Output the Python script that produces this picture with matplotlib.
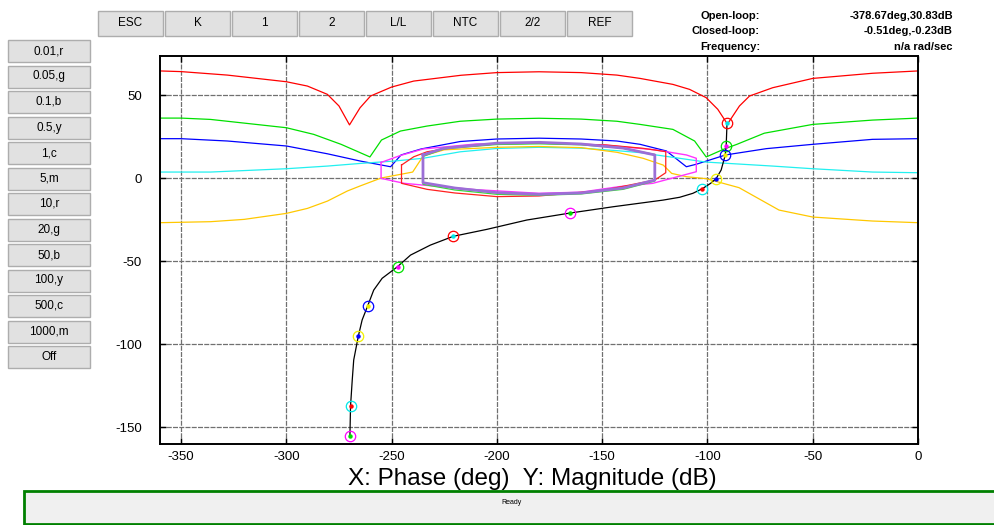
import matplotlib.pyplot as plt
from matplotlib.patches import Rectangle

# ---- data (phase in deg, magnitude in dB) ----
red_phase = [-360, -350, -328, -300, -290, -280.5, -275, -270, -265, -260, -250, -239.5,
             -217, -200, -180, -160, -143, -132, -116.4, -108.5, -100.6, -95.1, -90.5,
             -84.8, -80, -69, -50, -21.6, 0]
red_mag = [64.5, 64.1, 62.0, 58.0, 55.4, 50.4, 43.4, 32.0, 42.3, 49.4, 54.8, 58.4,
           61.9, 63.5, 64.0, 63.5, 62.0, 60.0, 56.4, 53.4, 48.4, 41.4, 32.5,
           43.4, 49.4, 54.4, 60.0, 63.1, 64.5]

green_phase = [-360, -350, -336, -300, -287, -274, -260.3, -254.8, -245.8, -233.2, -217.4,
               -200, -180, -160, -143, -132, -116.4, -106.1, -100.6, -92, -86, -73, -50,
               -21.6, 0]
green_mag = [36.1, 36.1, 35.3, 30.3, 26.3, 20.3, 12.7, 22.9, 28.3, 31.3, 34.2,
             35.5, 36.0, 35.5, 34.2, 32.3, 29.3, 22.3, 12.7, 17.5, 20.3, 27.0, 32.3,
             34.9, 36.1]

blue_phase = [-360, -350, -328, -300, -280.5, -264.8, -250.5, -245.5, -236, -217.4, -200,
              -180, -160, -143, -132, -119.5, -110, -105.3, -91.4, -72, -50, -21.6, 0]
blue_mag = [23.7, 23.7, 22.3, 19.3, 14.6, 10.2, 6.8, 13.9, 17.5, 22.0, 23.5,
            24.0, 23.5, 22.3, 20.3, 16.3, 6.8, 8.3, 13.9, 17.7, 20.3, 23.3, 23.7]

cyan_phase = [-360, -336, -300, -280.5, -264.8, -249, -235, -217.4, -200, -180, -160, -143,
              -132, -110, -100.6, -69, -50, -21.6, 0]
cyan_mag = [3.6, 3.6, 5.6, 7.2, 8.8, 10.2, 11.9, 15.8, 17.8, 18.5, 18.0, 16.5,
            15.3, 11.3, 9.6, 7.2, 5.6, 3.6, 3.2]

yellow_phase = [-360, -336, -320, -300, -290, -280.5, -271, -265, -255, -240, -235, -225,
                -200, -180, -160, -143, -130.6, -121, -117, -110, -100.6, -85, -66, -50,
                -21.6, 0]
yellow_mag = [-26.9, -26.3, -24.9, -21.3, -18.3, -13.9, -7.8, -4.8, 0.0, 3.6, 13.3, 17.0,
              18.5, 19.0, 18.3, 15.5, 11.9, 7.8, 2.8, 0.8, -0.4, -5.8, -19.3, -23.5,
              -25.9, -26.9]

# closed contours in the middle
loop_m_phase = [-255, -255, -244, -235.5, -210, -180, -160, -142, -126, -105.3, -105.3,
                -110, -125, -150, -180, -210, -235, -246, -255]
loop_m_mag = [9.4, -0.2, -3.2, -4.2, -7.0, -9.2, -8.5, -5.2, -3.2, 3.8, 11.9,
              13.9, 17.0, 20.0, 21.0, 20.5, 17.5, 13.5, 9.4]

loop_r_phase = [-245.3, -245.3, -233.2, -220, -200, -180, -150, -125, -119.8, -119.8,
                -130.6, -148, -180, -200, -220, -233.2, -239.5, -245.3]
loop_r_mag = [7.8, -3.2, -6.8, -9.0, -11.2, -10.8, -7.5, -1.2, 3.2, 15.9,
              17.9, 19.9, 21.0, 20.5, 18.5, 15.8, 12.8, 7.8]

loop_g_phase = [-235.1, -235.1, -220, -200, -180, -160, -140, -125, -125, -140, -160,
                -180, -200, -225, -235.1]
loop_g_mag = [13.0, -3.8, -7.2, -9.8, -10.4, -9.6, -6.8, -1.8, 14.2, 18.0, 20.0,
              20.6, 20.2, 17.6, 13.0]

loop_p_phase = [-235.1, -235.1, -220, -200, -180, -160, -140, -125, -125, -140, -160,
                -180, -200, -225.3, -235.1]
loop_p_mag = [13.9, -2.8, -6.0, -8.8, -9.8, -9.0, -6.0, -1.2, 13.9, 18.0, 20.5,
              21.5, 21.0, 17.9, 13.9]

# open-loop response
ol_phase = [-269.8, -269.5, -268.7, -268.0, -265.8, -264.0, -261.4, -258.5, -254.5, -247.2,
            -241.0, -231.6, -220.7, -204.7, -185.8, -165.3, -144.8, -121.1, -113.2, -106.9,
            -102.4, -98.5, -95.9, -93.5, -91.6, -91.1, -90.7]
ol_mag = [-155.2, -137.2, -121.7, -109.6, -95.2, -85.5, -77.1, -67.5, -60.4, -53.4,
          -46.4, -40.4, -35.1, -30.9, -25.3, -21.1, -17.3, -13.3, -11.6, -9.2,
          -6.4, -3.2, -0.4, 4.8, 13.6, 19.4, 33.2]

# frequency markers on the open-loop curve
mark_freq = ['0.01', '0.05', '0.1', '0.5', '1', '5', '10', '20', '50', '100', '500', '1000']
mark_phase = [-90.7, -91.1, -91.6, -95.9, -102.4, -165.3, -220.7, -247.2, -261.4, -265.8,
              -269.5, -269.8]
mark_mag = [33.2, 19.4, 13.6, -0.4, -6.4, -21.1, -35.1, -53.4, -77.1, -95.2, -137.2, -155.2]
mark_codes = ['r', 'g', 'b', 'y', 'c', 'm', 'r', 'g', 'b', 'y', 'c', 'm']

top_buttons = ['ESC', 'K', '1', '2', 'L/L', 'NTC', '2/2', 'REF']
side_buttons = [f + ',' + c for f, c in zip(mark_freq, mark_codes)] + ['Off']

info_names = ['Open-loop:', 'Closed-loop:', 'Frequency:']
info_values = ['-378.67deg,30.83dB', '-0.51deg,-0.23dB', 'n/a rad/sec']

ring = {'r': '#ff0000', 'g': '#00e000', 'b': '#0000ff', 'y': '#f0f000', 'c': '#00e8e8', 'm': '#ff00ff'}
dot = {'r': '#00e8e8', 'g': '#ff00ff', 'b': '#f0f000', 'y': '#0000ff', 'c': '#ff0000', 'm': '#00e000'}

W, H = 994, 525
plt.rcParams['font.family'] = ['Liberation Sans', 'DejaVu Sans']
plt.rcParams['axes.unicode_minus'] = False
fig = plt.figure(figsize=(W / 100, H / 100), dpi=100)


def frac(x0, y0, x1, y1):
    # pixel box (top-left origin) -> figure fraction rect
    return x0 / W, 1 - y1 / H, (x1 - x0) / W, (y1 - y0) / H


def button(x0, y0, x1, y1, label):
    l, b, w, h = frac(x0, y0, x1, y1)
    fig.add_artist(Rectangle((l, b), w, h, transform=fig.transFigure,
                             facecolor='#e1e1e1', edgecolor='#adadad', lw=1))
    fig.text(l + w / 2, b + h / 2, label, ha='center', va='center', fontsize=8.5)


ax = fig.add_axes(frac(160, 56, 918, 444))
ax.plot(red_phase, red_mag, color='#ff0000', lw=0.9)
ax.plot(green_phase, green_mag, color='#00e000', lw=0.9)
ax.plot(blue_phase, blue_mag, color='#0000ff', lw=0.9)
ax.plot(cyan_phase, cyan_mag, color='#22f0f0', lw=0.9)
ax.plot(yellow_phase, yellow_mag, color='#ffc800', lw=0.9)
ax.plot(loop_m_phase, loop_m_mag, color='#ff33ff', lw=1.0)
ax.plot(loop_r_phase, loop_r_mag, color='#ff2020', lw=0.9)
ax.plot(loop_g_phase, loop_g_mag, color='#33dd33', lw=0.9)
ax.plot(loop_p_phase, loop_p_mag, color='#9b6fd6', lw=2.0)
ax.plot(ol_phase, ol_mag, color='k', lw=0.9)
for p, m, c in zip(mark_phase, mark_mag, mark_codes):
    ax.plot(p, m, 'o', mfc='none', mec=ring[c], ms=7.5, mew=0.9)
    ax.plot(p, m, 'o', color=dot[c], ms=2.2)

ax.set_xlim(-360, 0)
ax.set_ylim(-160.2, 73.5)
ax.set_xticks(range(-350, 1, 50))
ax.set_yticks([-150, -100, -50, 0, 50])
ax.tick_params(direction='in', top=True, right=True, length=4, width=1, labelsize=9.5)
ax.tick_params(axis='y', pad=13)
ax.tick_params(axis='x', pad=5)
ax.grid(True, color='#707070', lw=0.9, ls=(0, (4, 1)))
ax.set_axisbelow(True)
for s in ax.spines.values():
    s.set_linewidth(1.4)

fig.text(532 / W, 1 - 479 / H, 'X: Phase (deg)  Y: Magnitude (dB)', ha='center', va='center',
         fontsize=17.5)

for i, lab in enumerate(top_buttons):
    x0 = 98 + i * 67
    button(x0, 11, x0 + 65, 36, lab)
for i, lab in enumerate(side_buttons):
    y0 = 40 + i * 25.5
    button(8, y0, 90, y0 + 22, lab)

for i, (name, val) in enumerate(zip(info_names, info_values)):
    y = 1 - (16 + i * 15.5) / H
    fig.text(760 / W, y, name, ha='right', va='center', fontsize=8, fontweight='bold')
    fig.text(953 / W, y, val, ha='right', va='center', fontsize=8, fontweight='bold')

l, b, w, h = frac(24, 491, 996, 524)
fig.add_artist(Rectangle((l, b), w, h, transform=fig.transFigure,
                         facecolor='#f0f0f0', edgecolor='#008000', lw=2))
fig.text(511 / W, 1 - 503 / H, 'Ready', ha='center', va='center', fontsize=5)

fig.savefig('out.png', dpi=100)
